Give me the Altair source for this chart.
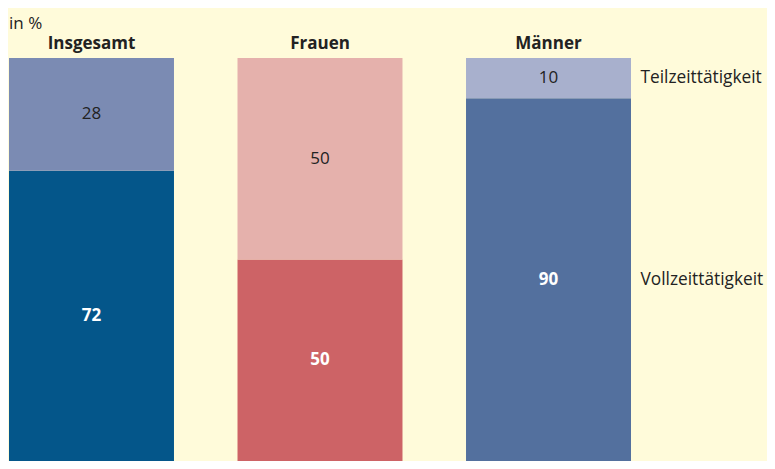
import altair as alt
import pandas as pd

groups = ["Insgesamt", "Frauen", "Männer"]
types = ["Vollzeittätigkeit", "Teilzeittätigkeit"]
vollzeit = [72, 50, 90]
teilzeit = [28, 50, 10]
colors_voll = ["#04568A", "#CD6366", "#53709E"]
colors_teil = ["#7B8BB3", "#E5B1AC", "#A8B0CD"]

rows = []
for g, v, t in zip(groups, vollzeit, teilzeit):
    rows.append(dict(group=g, type=types[0], value=v, start=0, end=v, key=g + "|" + types[0]))
    rows.append(dict(group=g, type=types[1], value=t, start=v, end=v + t, key=g + "|" + types[1]))
df = pd.DataFrame(rows)
df["mid"] = (df["start"] + df["end"]) / 2

keys = [g + "|" + types[0] for g in groups] + [g + "|" + types[1] for g in groups]
cols = colors_voll + colors_teil

FONT = "Open Sans"

x = alt.X("group:N", sort=groups,
          scale=alt.Scale(paddingInner=0.278, paddingOuter=0),
          axis=alt.Axis(orient="top", title=None, labelAngle=0, labelFontWeight="bold",
                        labelFontSize=17, labelColor="#222222", domain=False, ticks=False,
                        labelPadding=6, labelFont=FONT))
y = alt.Y("start:Q", scale=alt.Scale(domain=[0, 100], nice=False), axis=None)

base = alt.Chart(df)

bars = base.mark_bar().encode(
    x=x, y=y, y2="end:Q",
    color=alt.Color("key:N", scale=alt.Scale(domain=keys, range=cols), legend=None),
)

txt_voll = base.transform_filter(alt.datum.type == types[0]).mark_text(
    fontSize=17, font=FONT, fontWeight="bold", color="white"
).encode(
    x=alt.X("group:N", sort=groups),
    y=alt.Y("mid:Q"),
    text=alt.Text("value:Q"),
)

txt_teil = base.transform_filter(alt.datum.type == types[1]).mark_text(
    fontSize=17, font=FONT, color="#222222"
).encode(
    x=alt.X("group:N", sort=groups),
    y=alt.Y("mid:Q"),
    text=alt.Text("value:Q"),
)

side = base.transform_filter(alt.datum.group == groups[-1]).mark_text(
    fontSize=17.3, font=FONT, align="left", dx=92, color="#222222"
).encode(
    x=alt.X("group:N", sort=groups),
    y=alt.Y("mid:Q"),
    text="type:N",
)

chart = alt.layer(bars, txt_voll, txt_teil, side).properties(
    width=622, height=403,
    title=alt.TitleParams("in %", anchor="start", fontSize=17, fontWeight="normal",
                          font=FONT, color="#222222", offset=1),
    background="#FFFBDA",
    autosize=alt.AutoSizeParams(type="none"),
    padding={"left": 1, "top": 50, "right": 136, "bottom": 0},
).configure_view(stroke=None)

chart.save("out.html", embed_options={"renderer": "svg", "actions": False})
